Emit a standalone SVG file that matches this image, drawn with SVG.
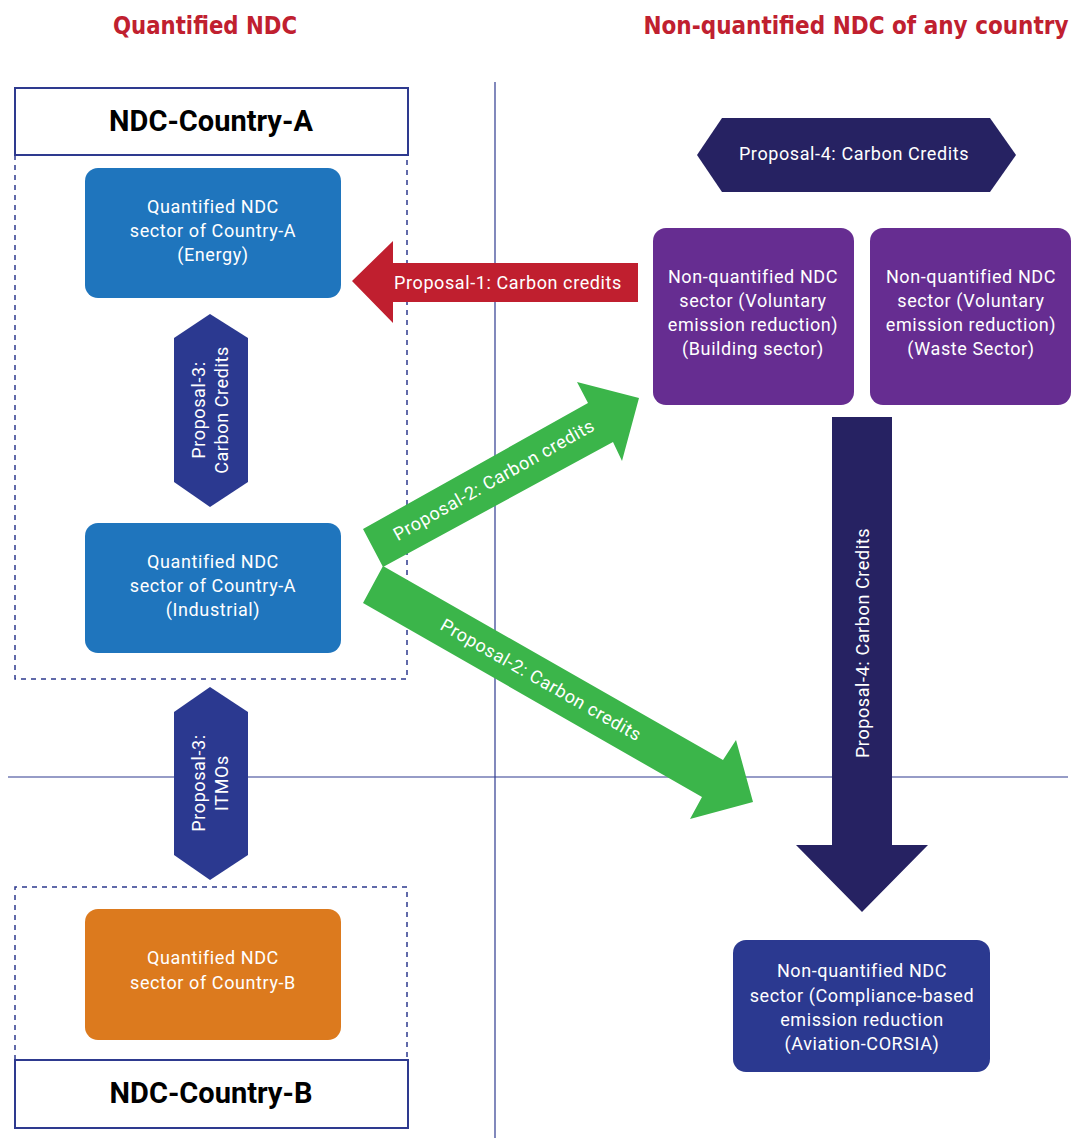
<svg xmlns="http://www.w3.org/2000/svg" width="1072" height="1138" viewBox="0 0 1072 1138">
<style>
.hdr{font-family:"DejaVu Sans Condensed","DejaVu Sans",sans-serif;font-weight:bold;font-size:24px;fill:#c0202f;text-anchor:middle}
.ttl{font-family:Roboto,"Liberation Sans",sans-serif;font-weight:bold;font-size:29px;fill:#000;text-anchor:middle}
.t{font-family:Roboto,"Liberation Sans",sans-serif;font-size:18px;letter-spacing:0.6px;fill:#fff;text-anchor:middle}
.frame{fill:#fff;stroke:#2e3a8f;stroke-width:2}
.dash{fill:none;stroke:#2e3a8f;stroke-width:1.5;stroke-dasharray:5 5}
.axis{stroke:#2e3a8f;stroke-width:1.2}
</style>
<rect width="1072" height="1138" fill="#fff"/>
<text class="hdr" x="205" y="34" textLength="184" lengthAdjust="spacingAndGlyphs">Quantified NDC</text>
<text class="hdr" x="856" y="34" textLength="425" lengthAdjust="spacingAndGlyphs">Non-quantified NDC of any country</text>
<g id="axes">
<line class="axis" x1="495" y1="82" x2="495" y2="1138"/>
<line class="axis" x1="8" y1="777" x2="1068" y2="777"/>
</g>
<g id="containerA"><path class="dash" d="M15,155 V679 H407 V155"/></g>
<g id="containerB"><path class="dash" d="M15,1060 V887 H407 V1060"/></g>
<g id="countryA"><rect class="frame" x="15" y="88" width="393" height="67"/><text class="ttl" x="211" y="131">NDC-Country-A</text></g>
<g id="countryB"><rect class="frame" x="15" y="1060" width="393" height="68"/><text class="ttl" x="211" y="1103">NDC-Country-B</text></g>
<g id="energy"><rect x="85" y="168" width="256" height="130" rx="13" fill="#1f75bd"/>
<text class="t" x="213" y="213">Quantified NDC</text><text class="t" x="213" y="237">sector of Country-A</text><text class="t" x="213" y="261">(Energy)</text></g>
<g id="industrial"><rect x="85" y="523" width="256" height="130" rx="13" fill="#1f75bd"/>
<text class="t" x="213" y="568">Quantified NDC</text><text class="t" x="213" y="592">sector of Country-A</text><text class="t" x="213" y="616">(Industrial)</text></g>
<g id="countryBsector"><rect x="85" y="909" width="256" height="131" rx="13" fill="#dc7a1e"/>
<text class="t" x="213" y="964">Quantified NDC</text><text class="t" x="213" y="989">sector of Country-B</text></g>
<g id="building"><rect x="653" y="228" width="201" height="177" rx="13" fill="#662d91"/>
<text class="t" x="753" y="283">Non-quantified NDC</text><text class="t" x="753" y="307">sector (Voluntary</text><text class="t" x="753" y="331">emission reduction)</text><text class="t" x="753" y="355">(Building sector)</text></g>
<g id="waste"><rect x="870" y="228" width="201" height="177" rx="13" fill="#662d91"/>
<text class="t" x="971" y="283">Non-quantified NDC</text><text class="t" x="971" y="307">sector (Voluntary</text><text class="t" x="971" y="331">emission reduction)</text><text class="t" x="971" y="355">(Waste Sector)</text></g>
<g id="aviation"><rect x="733" y="940" width="257" height="132" rx="13" fill="#2b3990"/>
<text class="t" x="862" y="977">Non-quantified NDC</text><text class="t" x="862" y="1002">sector (Compliance-based</text><text class="t" x="862" y="1026">emission reduction</text><text class="t" x="862" y="1050">(Aviation-CORSIA)</text></g>
<g id="connectors">
<g id="p1"><polygon points="352,281 393,241 393,263 638,263 638,302 393,302 393,323" fill="#c01f2f"/>
<text class="t" x="508" y="289">Proposal-1: Carbon credits</text></g>
<g id="p2up"><polygon points="363,529 588,403 577,382 639,398 622,461 613,442 383,567" fill="#3bb54a"/>
<text class="t" transform="translate(494,480) rotate(-29.4)" y="6">Proposal-2: Carbon credits</text></g>
<g id="p2down"><polygon points="383,566 723,760 736,740 753,802 690,819 702,797 363,603" fill="#3bb54a"/>
<text class="t" transform="translate(541,680) rotate(29.7)" y="6">Proposal-2: Carbon credits</text></g>
<g id="p3cc"><polygon points="210,314 248,338 248,482 210,507 174,482 174,338" fill="#2b3990"/>
<text class="t" transform="translate(199,410) rotate(-90)" y="6">Proposal-3:</text><text class="t" transform="translate(222,410) rotate(-90)" y="6">Carbon Credits</text></g>
<g id="p3itmo"><polygon points="210,687 248,712 248,855 210,880 174,855 174,712" fill="#2b3990"/>
<text class="t" transform="translate(199,783) rotate(-90)" y="6">Proposal-3:</text><text class="t" transform="translate(222,783) rotate(-90)" y="6">ITMOs</text></g>
<g id="p4hex"><polygon points="697,155 722,118 990,118 1016,155 990,192 722,192" fill="#262262"/>
<text class="t" x="854" y="160">Proposal-4: Carbon Credits</text></g>
<g id="p4arrow"><polygon points="832,417 892,417 892,845 928,845 862,912 796,845 832,845" fill="#262262"/>
<text class="t" transform="translate(863,643) rotate(-90)" y="6">Proposal-4: Carbon Credits</text></g>
</g>
</svg>
